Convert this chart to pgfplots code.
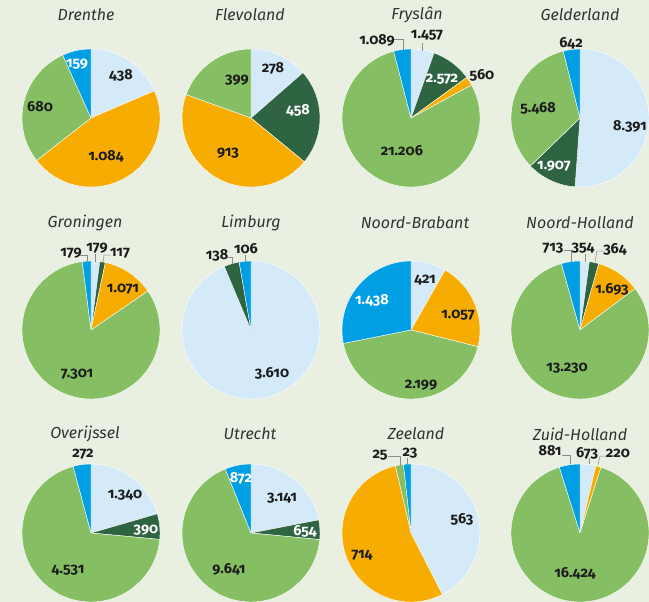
\documentclass[border=0pt]{standalone}
\usepackage{pgfplots}
\pgfplotsset{compat=1.18}
\usepackage{fontspec}
\setmainfont{Fira Sans}[Numbers=OldStyle]
\definecolor{bg}{HTML}{E9F0E1}
\definecolor{lb}{HTML}{D5EAF8}
\definecolor{dg}{HTML}{2F6443}
\definecolor{or}{HTML}{F6AC00}
\definecolor{lg}{HTML}{86BF63}
\definecolor{bl}{HTML}{009FE3}
\definecolor{txt}{HTML}{1C1C1C}

% pie at (cx,cy) in picture pixels; slices clockwise from 12 o'clock:
% light blue, dark green, orange, light green, blue
\newcommand\pie[7]{%
  \edef\tot{\fpeval{#3+#4+#5+#6+#7}}%
  \xdef\ang{90}%
  \foreach \v/\c in {#3/lb,#4/dg,#5/or,#6/lg,#7/bl}{%
    \ifnum\v>0
      \edef\na{\fpeval{\ang-360*\v/\tot}}%
      \fill[\c, draw=white, line width=0.4pt, line join=round]
        (axis cs:#1,#2) -- ([shift={(\ang:69pt)}]axis cs:#1,#2)
        arc[start angle=\ang, end angle=\na, radius=69pt] -- cycle;
      \xdef\ang{\na}%
    \fi}}
\newcommand\ttl[3]{\node[font=\itshape\fontsize{16}{16}\selectfont, text=black!80] at (axis cs:#1,#2) {#3};}
\newcommand\lab[4][txt]{\node[font=\bfseries\fontsize{14.5}{14.5}\selectfont, text=#1, inner sep=0pt] at (axis cs:#2,#3) {#4};}
\tikzset{leader/.style={draw=black!45, line width=0.5pt}}

\begin{document}
\begin{tikzpicture}
\begin{axis}[
  scale only axis, width=649pt, height=602pt,
  xmin=0, xmax=649, ymin=0, ymax=602, y dir=reverse,
  axis lines=none, xtick=\empty, ytick=\empty,
]
\pgfplotsextra{
  \fill[bg] (rel axis cs:0,0) rectangle (rel axis cs:1,1);
  % row 1
  \pie{91}{118}{438}{0}{1084}{680}{159}
  \pie{251}{118}{278}{458}{913}{399}{0}
  \pie{411}{118}{1457}{2572}{560}{21206}{1089}
  \pie{580}{118}{8391}{1907}{0}{5468}{642}
  % row 2
  \pie{91}{330}{179}{117}{1071}{7301}{179}
  \pie{251}{330}{3610}{138}{0}{0}{106}
  \pie{411}{330}{421}{0}{1057}{2199}{1438}
  \pie{580}{330}{354}{364}{1693}{13230}{713}
  % row 3
  \pie{91}{533}{1340}{390}{0}{4531}{272}
  \pie{251}{533}{3141}{654}{0}{9641}{872}
  \pie{411}{533}{563}{0}{714}{25}{23}
  \pie{580}{533}{673}{0}{220}{16424}{881}

  \ttl{86}{15}{Drenthe}
  \ttl{250}{15}{Flevoland}
  \ttl{417}{15}{Fryslân}
  \ttl{580}{15}{Gelderland}
  \ttl{85}{223}{Groningen}
  \ttl{251}{223}{Limburg}
  \ttl{415}{223}{Noord-Brabant}
  \ttl{580}{223}{Noord-Holland}
  \ttl{85}{434}{Overijssel}
  \ttl{250}{434}{Utrecht}
  \ttl{416}{434}{Zeeland}
  \ttl{580}{434}{Zuid-Holland}

  % leader lines
  \draw[leader] (axis cs:394,39) -- (axis cs:403,39) -- (axis cs:403,50);
  \draw[leader] (axis cs:422,43) -- (axis cs:422,51);
  \draw[leader] (axis cs:80,255) -- (axis cs:87,255) -- (axis cs:87,263);
  \draw[leader] (axis cs:95,254) -- (axis cs:95,262);
  \draw[leader] (axis cs:111,255) -- (axis cs:104,255) -- (axis cs:103,263);
  \draw[leader] (axis cs:228,257) -- (axis cs:232,257) -- (axis cs:232,264);
  \draw[leader] (axis cs:245,255) -- (axis cs:245,262);
  \draw[leader] (axis cs:564,250) -- (axis cs:571,250) -- (axis cs:571,262);
  \draw[leader] (axis cs:585,254) -- (axis cs:585,262);
  \draw[leader] (axis cs:604,251) -- (axis cs:597,251) -- (axis cs:595,262);
  \draw[leader] (axis cs:388,456) -- (axis cs:400,456) -- (axis cs:400,465);
  \draw[leader] (axis cs:407,458) -- (axis cs:407,465);
  \draw[leader] (axis cs:562,455) -- (axis cs:570,455) -- (axis cs:570,464);
  \draw[leader] (axis cs:589,458) -- (axis cs:589,464);
  \draw[leader] (axis cs:607,456) -- (axis cs:600,456) -- (axis cs:598,465);

  % labels
  \lab{121}{75}{438} \lab[white]{77}{64}{159} \lab{40}{107}{680} \lab{106}{156}{1.084}
  \lab{273}{68}{278} \lab[white]{298}{110}{458} \lab{228}{153}{913} \lab{237}{80}{399}
  \lab{377}{40}{1.089} \lab{427}{35}{1.457} \lab[white]{442}{79}{2.572} \lab{482}{75}{560} \lab{402}{151}{21.206}
  \lab{571}{43}{642} \lab{630}{126}{8.391} \lab{538}{108}{5.468} \lab[white]{554}{166}{1.907}
  \lab{71}{253}{179} \lab{97}{248}{179} \lab{120}{253}{117} \lab{123}{289}{1.071} \lab{77}{374}{7.301}
  \lab{217}{255}{138} \lab{246}{249}{106} \lab{272}{373}{3.610}
  \lab{425}{280}{421} \lab{458}{315}{1.057} \lab{421}{385}{2.199} \lab[white]{372}{300}{1.438}
  \lab{553}{248}{713} \lab{583}{248}{354} \lab{615}{249}{364} \lab{612}{289}{1.693} \lab{567}{368}{13.230}
  \lab{83}{454}{272} \lab{125}{495}{1.340} \lab[white]{146}{530}{390} \lab{68}{570}{4.531}
  \lab[white]{241}{478}{872} \lab{282}{498}{3.141} \lab[white]{305}{531}{654} \lab{229}{569}{9.641}
  \lab{380}{455}{25} \lab{410}{453}{23} \lab{462}{519}{563} \lab{362}{555}{714}
  \lab{550}{451}{881} \lab{587}{453}{673} \lab{618}{453}{220} \lab{575}{573}{16.424}
}
\end{axis}
\end{tikzpicture}
\end{document}
